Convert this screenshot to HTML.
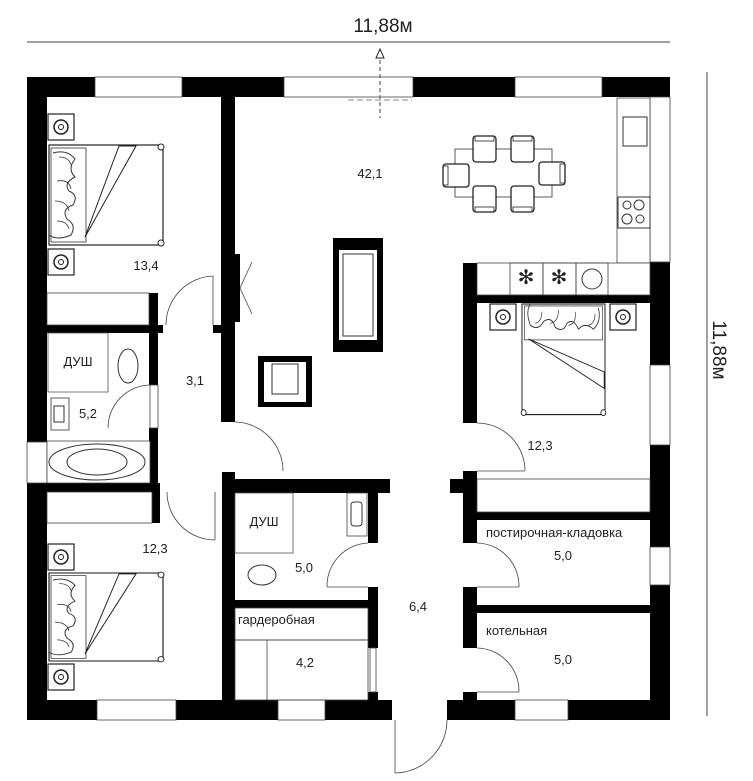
<!DOCTYPE html>
<html><head><meta charset="utf-8"><style>
html,body{margin:0;padding:0;background:#fff}
svg{display:block}
text{font-family:"Liberation Sans",sans-serif;fill:#222}
</style></head><body>
<svg width="753" height="781" viewBox="0 0 753 781" xmlns="http://www.w3.org/2000/svg">
<defs>
<g id="ns"><rect x="0" y="0" width="26" height="26" fill="#fff" stroke="#222" stroke-width="1.2"/><circle cx="13" cy="13" r="7" fill="none" stroke="#222" stroke-width="1.5"/><circle cx="13" cy="13" r="2.5" fill="none" stroke="#222"/></g>
<g id="bed">
<rect x="0" y="0" width="114" height="100" fill="#fff" stroke="#222" stroke-width="1.2"/>
<rect x="2" y="3" width="35" height="94" fill="none" stroke="#333" stroke-width="0.8"/>
<path d="M4 8 q14 -4 22 6 q-8 10 0 18 q-12 6 -6 14 q10 4 4 14 q-12 4 -6 14 q10 6 4 16 q-14 6 -22 0" fill="none" stroke="#333" stroke-width="1"/>
<path d="M10 12 q10 0 12 8 M8 36 q12 -2 14 8 M6 56 q12 0 14 10 M8 76 q10 0 12 8" fill="none" stroke="#333" stroke-width="0.8"/>
<path d="M36 92 L70 1 L87 1 Z" fill="none" stroke="#222" stroke-width="1"/>
<circle cx="112" cy="2" r="3" fill="#fff" stroke="#222"/><circle cx="112" cy="98" r="3" fill="#fff" stroke="#222"/>
</g>
<g id="chair"><rect x="0" y="0" width="23" height="26" rx="3" fill="#fff" stroke="#222" stroke-width="1.3"/><rect x="2" y="0" width="19" height="5" fill="none" stroke="#222" stroke-width="0.8"/></g>
</defs>

<text x="383" y="32" font-size="19" text-anchor="middle">11,88м</text>
<line x1="27" y1="42" x2="670" y2="42" stroke="#444" stroke-width="1"/>
<line x1="707" y1="72" x2="707" y2="716" stroke="#444" stroke-width="1"/>
<text transform="translate(713,350) rotate(90)" font-size="19" text-anchor="middle">11,88м</text>
<path d="M376 58 L380 49 L384 58 Z" fill="#fff" stroke="#222"/>
<line x1="380" y1="60" x2="380" y2="118" stroke="#444" stroke-dasharray="4,3"/>
<line x1="348" y1="100" x2="412" y2="100" stroke="#888" stroke-dasharray="6,3"/>

<g fill="#000">
<rect x="27" y="77" width="68" height="20"/><rect x="182" y="77" width="102" height="20"/><rect x="413" y="77" width="102" height="20"/><rect x="602" y="77" width="68" height="20"/>
<rect x="27" y="77" width="20" height="365"/><rect x="27" y="483" width="20" height="237"/>
<rect x="650" y="262" width="20" height="103"/><rect x="650" y="445" width="20" height="102"/><rect x="650" y="585" width="20" height="135"/>
<rect x="27" y="700" width="70" height="20"/><rect x="176" y="700" width="102" height="20"/><rect x="325" y="700" width="67" height="20"/><rect x="447" y="700" width="68" height="20"/><rect x="568" y="700" width="102" height="20"/>
<rect x="221" y="97" width="14" height="325"/><rect x="235" y="254" width="5" height="68"/>
<rect x="213" y="325" width="8" height="8"/>
<rect x="47" y="325" width="116" height="8"/>
<rect x="149" y="293" width="9" height="92"/><rect x="149" y="428" width="9" height="55"/>
<rect x="47" y="483" width="113" height="9"/>
<rect x="152" y="483" width="8" height="40"/>
<rect x="222" y="472" width="13" height="228"/>
<rect x="222" y="479" width="168" height="14"/>
<rect x="368" y="493" width="10" height="50"/><rect x="368" y="587" width="10" height="61"/><rect x="368" y="692" width="10" height="8"/>
<rect x="235" y="600" width="135" height="8"/>
<rect x="463" y="263" width="14" height="160"/><rect x="463" y="471" width="14" height="72"/><rect x="463" y="587" width="14" height="61"/><rect x="463" y="692" width="14" height="8"/>
<rect x="450" y="479" width="13" height="14"/>
<rect x="463" y="295" width="187" height="8"/>
<rect x="477" y="512" width="173" height="8"/><rect x="477" y="605" width="173" height="8"/>
</g>

<g fill="none" stroke="#444" stroke-width="0.8">
<rect x="95" y="77" width="87" height="20"/><rect x="284" y="77" width="129" height="20"/><rect x="515" y="77" width="87" height="20"/>
<rect x="650" y="97" width="20" height="165"/><rect x="650" y="365" width="20" height="80"/><rect x="650" y="547" width="20" height="38"/>
<rect x="27" y="442" width="20" height="41"/>
<rect x="97" y="700" width="79" height="20"/><rect x="278" y="700" width="47" height="20"/><rect x="515" y="700" width="53" height="20"/>
<rect x="150" y="385" width="8" height="43"/><rect x="370" y="648" width="6" height="44"/>
<rect x="47" y="293" width="102" height="32"/>
<rect x="47" y="492" width="105" height="31"/>
<rect x="477" y="479" width="173" height="33"/>
<rect x="235" y="608" width="133" height="32"/><line x1="267" y1="640" x2="267" y2="700"/><rect x="235" y="640" width="133" height="60"/>
<path d="M213 276 A49 49 0 0 0 166 325"/><line x1="213" y1="276" x2="213" y2="325"/>
<path d="M150 385 A43 43 0 0 0 108 428"/>
<path d="M167 492 A48 48 0 0 0 215 540"/><line x1="215" y1="492" x2="215" y2="540"/>
<path d="M235 422 A49 49 0 0 1 283 471"/>
<path d="M368 543 A43 43 0 0 0 327 587"/><line x1="327" y1="587" x2="368" y2="587"/>
<path d="M477 423 A48 48 0 0 1 525 471"/><line x1="477" y1="471" x2="525" y2="471"/>
<path d="M477 543 A43 43 0 0 1 519 587"/><line x1="477" y1="587" x2="519" y2="587"/>
<path d="M477 648 A43 43 0 0 1 519 692"/><line x1="477" y1="692" x2="519" y2="692"/>
<path d="M447 720 A53 53 0 0 1 395 773"/><line x1="395" y1="720" x2="395" y2="773"/>
<path d="M240 288 L252 262 M240 288 L252 314"/>
</g>

<rect x="48" y="333" width="60" height="59" fill="#fff" stroke="#555" stroke-width="0.8"/>
<ellipse cx="128" cy="366" rx="10" ry="17" fill="#fff" stroke="#333"/>
<rect x="51" y="398" width="18" height="32" fill="#fff" stroke="#333" stroke-width="0.8"/><rect x="54" y="406" width="10" height="16" fill="none" stroke="#333"/>
<rect x="47" y="441" width="103" height="42" fill="#fff" stroke="#444" stroke-width="0.8"/>
<ellipse cx="97" cy="462" rx="48" ry="18" fill="none" stroke="#333"/><ellipse cx="97" cy="462" rx="30" ry="13" fill="none" stroke="#333"/>
<rect x="235" y="493" width="58" height="60" fill="#fff" stroke="#555" stroke-width="0.8"/>
<ellipse cx="262" cy="575" rx="14" ry="10" fill="#fff" stroke="#333"/>
<rect x="347" y="493" width="20" height="43" fill="#fff" stroke="#444" stroke-width="0.8"/><rect x="351" y="502" width="11" height="24" rx="3" fill="none" stroke="#333"/>

<use href="#ns" x="48" y="114"/><use href="#ns" x="48" y="249"/><use href="#bed" x="49" y="145"/>
<use href="#ns" x="48" y="544"/><use href="#ns" x="48" y="664"/>
<g transform="translate(49,573) scale(1,0.88)"><use href="#bed"/></g>
<use href="#ns" x="490" y="304"/><use href="#ns" x="610" y="304"/>
<g transform="translate(605,304) rotate(90) scale(0.97,0.83)"><use href="#bed"/></g>

<rect x="617" y="98" width="33" height="165" fill="#fff" stroke="#444" stroke-width="0.8"/>
<rect x="623" y="117" width="24" height="29" fill="#fff" stroke="#333"/>
<rect x="618" y="197" width="32" height="31" fill="#fff" stroke="#333"/>
<circle cx="627" cy="205" r="4" fill="none" stroke="#333"/><circle cx="639" cy="205" r="5" fill="none" stroke="#333"/><circle cx="627" cy="219" r="5" fill="none" stroke="#333"/><circle cx="640" cy="219" r="4" fill="none" stroke="#333"/>
<rect x="477" y="263" width="173" height="32" fill="#fff" stroke="#444" stroke-width="0.8"/>
<rect x="510" y="263" width="33" height="32" fill="none" stroke="#444" stroke-width="0.8"/><rect x="543" y="263" width="33" height="32" fill="none" stroke="#444" stroke-width="0.8"/><rect x="576" y="263" width="32" height="32" fill="none" stroke="#444" stroke-width="0.8"/>
<text x="526" y="284" font-size="20" text-anchor="middle">✻</text><text x="559" y="284" font-size="20" text-anchor="middle">✻</text>
<circle cx="592" cy="279" r="10" fill="none" stroke="#333"/>

<rect x="455" y="149" width="97" height="48" fill="#fff" stroke="#333" stroke-width="0.8"/>
<use href="#chair" x="473" y="136"/><use href="#chair" x="511" y="136"/>
<g transform="translate(496,212) rotate(180)"><use href="#chair"/></g><g transform="translate(534,212) rotate(180)"><use href="#chair"/></g>
<g transform="translate(443,187) rotate(-90)"><use href="#chair"/></g><g transform="translate(565,162) rotate(90)"><use href="#chair"/></g>

<rect x="333" y="238" width="50" height="114" fill="#000"/><rect x="339" y="250" width="38" height="90" fill="#fff"/><rect x="343" y="254" width="30" height="82" fill="none" stroke="#333"/>
<rect x="258" y="356" width="54" height="51" fill="#000"/><rect x="264" y="362" width="42" height="40" fill="#fff"/><rect x="272" y="364" width="26" height="30" fill="none" stroke="#333"/>

<g font-size="13">
<text x="370" y="178" text-anchor="middle">42,1</text>
<text x="146" y="270" text-anchor="middle">13,4</text>
<text x="78" y="366" text-anchor="middle">ДУШ</text>
<text x="195" y="385" text-anchor="middle">3,1</text>
<text x="88" y="418" text-anchor="middle">5,2</text>
<text x="540" y="450" text-anchor="middle">12,3</text>
<text x="155" y="553" text-anchor="middle">12,3</text>
<text x="264" y="526" text-anchor="middle">ДУШ</text>
<text x="304" y="572" text-anchor="middle">5,0</text>
<text x="238" y="624">гардеробная</text>
<text x="305" y="667" text-anchor="middle">4,2</text>
<text x="418" y="611" text-anchor="middle">6,4</text>
<text x="486" y="537">постирочная-кладовка</text>
<text x="563" y="560" text-anchor="middle">5,0</text>
<text x="486" y="635">котельная</text>
<text x="563" y="664" text-anchor="middle">5,0</text>
</g>
</svg>
</body></html>
